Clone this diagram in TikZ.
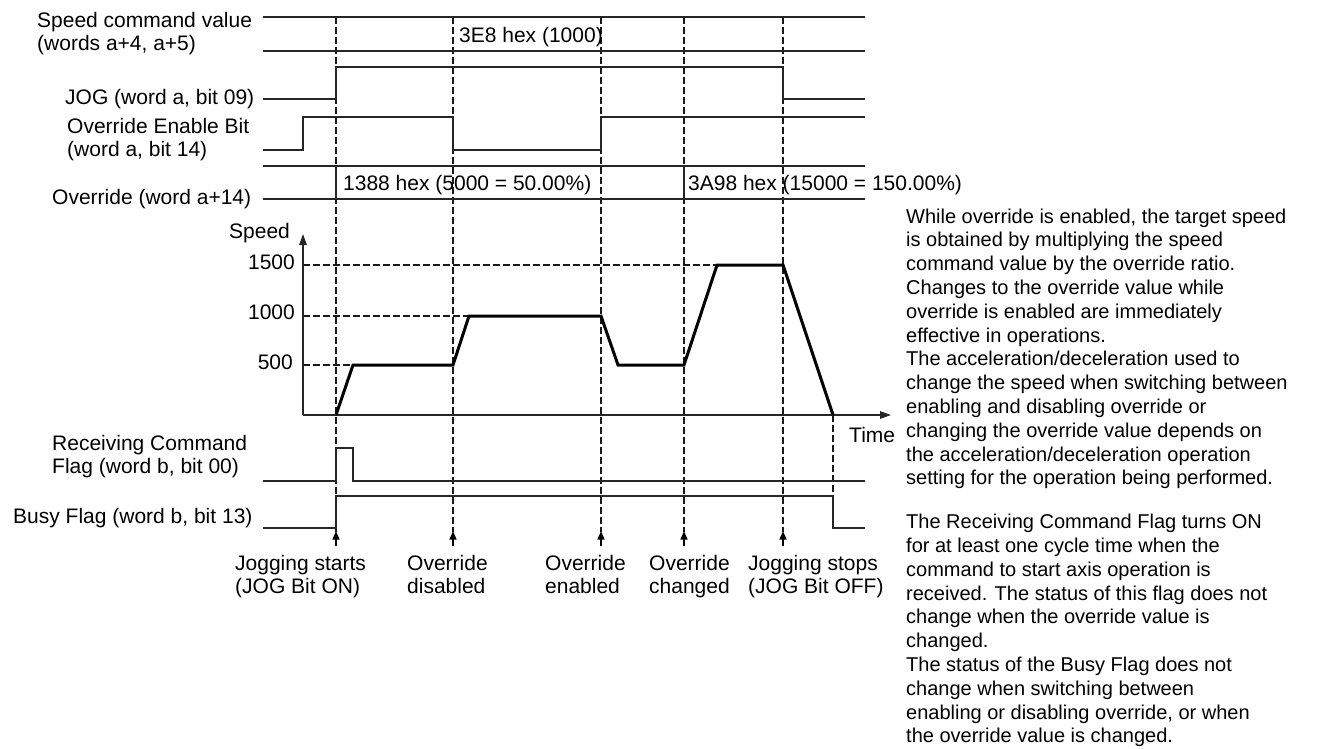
\documentclass[tikz,border=0pt]{standalone}
\usepackage{fontspec}
\setmainfont{Liberation Sans}
\usetikzlibrary{arrows.meta}
\newcommand\twolines[2]{\vtop{\baselineskip=23.5pt\hbox{#1}\hbox{#2}}}
\begin{document}
\begin{tikzpicture}[x=1pt,y=-1pt,
  sig/.style={line width=1.3pt, draw=black!85, line join=miter},
  spd/.style={line width=3pt, draw=black, line join=miter},
  dsh/.style={line width=1.1pt, dash pattern=on 6.5pt off 3.5pt, draw=black!90},
  lbl/.style={anchor=base west, inner sep=0pt, font=\fontsize{21}{23.5}\selectfont},
  lble/.style={anchor=base east, inner sep=0pt, font=\fontsize{21}{23.5}\selectfont},
  axarrow/.style={sig, -{Triangle[length=11pt,width=7.5pt]}},
  evarrow/.style={line width=1.3pt, draw=black, -{Triangle[length=8.5pt,width=7pt]}}]
\useasboundingbox (0,0) rectangle (1334,748);

% event times
\coordinate (t0) at (336,0);
\coordinate (t1) at (453,0);
\coordinate (t2) at (601,0);
\coordinate (t3) at (684,0);
\coordinate (t4) at (783,0);
\coordinate (t5) at (833,0);

% dashed event lines
\foreach \x in {336,453,601,684,783} \draw[dsh] (\x,17) -- (\x,532);
\draw[dsh] (833,415) -- (833,496);

% Speed command value
\draw[sig] (263,17) -- (865,17);
\draw[sig] (263,51) -- (865,51);
% JOG
\draw[sig] (263,99) -- (336,99) -- (336,67) -- (783,67) -- (783,99) -- (865,99);
% Override enable bit
\draw[sig] (263,150) -- (303,150) -- (303,117) -- (453,117) -- (453,150) -- (601,150) -- (601,117) -- (865,117);
% Override word
\draw[sig] (263,166) -- (865,166);
\draw[sig] (263,199) -- (865,199);
\draw[sig] (336,166) -- (336,199);
\draw[sig] (684,166) -- (684,199);

% speed graph
\coordinate (origin) at (303,415);
\coordinate (ytop) at (303,234);
\coordinate (xend) at (891,415);
\draw[dsh] (303,265) -- (717,265);
\draw[dsh] (303,316) -- (469,316);
\draw[dsh] (303,365) -- (353,365);
\draw[axarrow] (origin) -- (ytop);
\draw[axarrow] (origin) -- (xend);
\draw[spd] (336,415) -- (353,365) -- (453,365) -- (469,316) -- (601,316) -- (618,365) -- (684,365) -- (717,265) -- (783,265) -- (833,415);

% Receiving command flag
\draw[sig] (263,481) -- (336,481) -- (336,448) -- (353,448) -- (353,481) -- (865,481);
% Busy flag
\draw[sig] (263,528) -- (336,528) -- (336,496) -- (833,496) -- (833,528) -- (865,528);

% event arrows
\foreach \x in {336,453,601,684,783} \draw[evarrow] (\x,546) -- (\x,531);

% left labels
\node[lbl] (lspd) at (37,27) {\twolines{Speed command value}{(words a+4, a+5)}};
\node[lbl] (ljog) at (65,104) {JOG (word a, bit 09)};
\node[lbl] (lovb) at (67,133) {\twolines{Override Enable Bit}{(word a, bit 14)}};
\node[lbl] (lovw) at (52,204) {Override (word a+14)};
\node[lbl] (lrcv) at (52,450) {\twolines{Receiving Command}{Flag (word b, bit 00)}};
\node[lbl] (lbsy) at (13,523) {Busy Flag (word b, bit 13)};

% band values
\node[lbl] (v3e8) at (459,42) {3E8 hex (1000)};
\node[lbl] (v1388) at (343,190) {1388 hex (5000 = 50.00\%)};
\node[lbl] (v3a98) at (688,190) {3A98 hex (15000 = 150.00\%)};

% axis labels
\node[lbl] (lspeed) at (229,238) {Speed};
\node[lble] (y1500) at (295,269) {1500};
\node[lble] (y1000) at (295,319) {1000};
\node[lble] (y500) at (293,369) {500};
\node[lbl] (ltime) at (849,442) {Time};

% event labels
\node[lbl] (e0) at (235,570) {\twolines{Jogging starts}{(JOG Bit ON)}};
\node[lbl] (e1) at (407,570) {\twolines{Override}{disabled}};
\node[lbl] (e2) at (545,570) {\twolines{Override}{enabled}};
\node[lbl] (e3) at (649,570) {\twolines{Override}{changed}};
\node[lbl] (e4) at (748,570) {\twolines{Jogging stops}{(JOG Bit OFF)}};

% notes
\node[anchor=base west, inner sep=0pt, font=\fontsize{20}{23.8}\selectfont] (notes) at (906,223)
{\parbox[t]{425pt}{\raggedright
While override is enabled, the target speed\\
is obtained by multiplying the speed\\
command value by the override ratio.\\
Changes to the override value while\\
override is enabled are immediately\\
effective in operations.\\
The acceleration/deceleration used to\\
change the speed when switching between\\
enabling and disabling override or\\
changing the override value depends on\\
the acceleration/deceleration operation\\
setting for the operation being performed.\\[20pt]
The Receiving Command Flag turns ON\\
for at least one cycle time when the\\
command to start axis operation is\\
received. The status of this flag does not\\
change when the override value is\\
changed.\\
The status of the Busy Flag does not\\
change when switching between\\
enabling or disabling override, or when\\
the override value is changed.}};
\end{tikzpicture}
\end{document}
